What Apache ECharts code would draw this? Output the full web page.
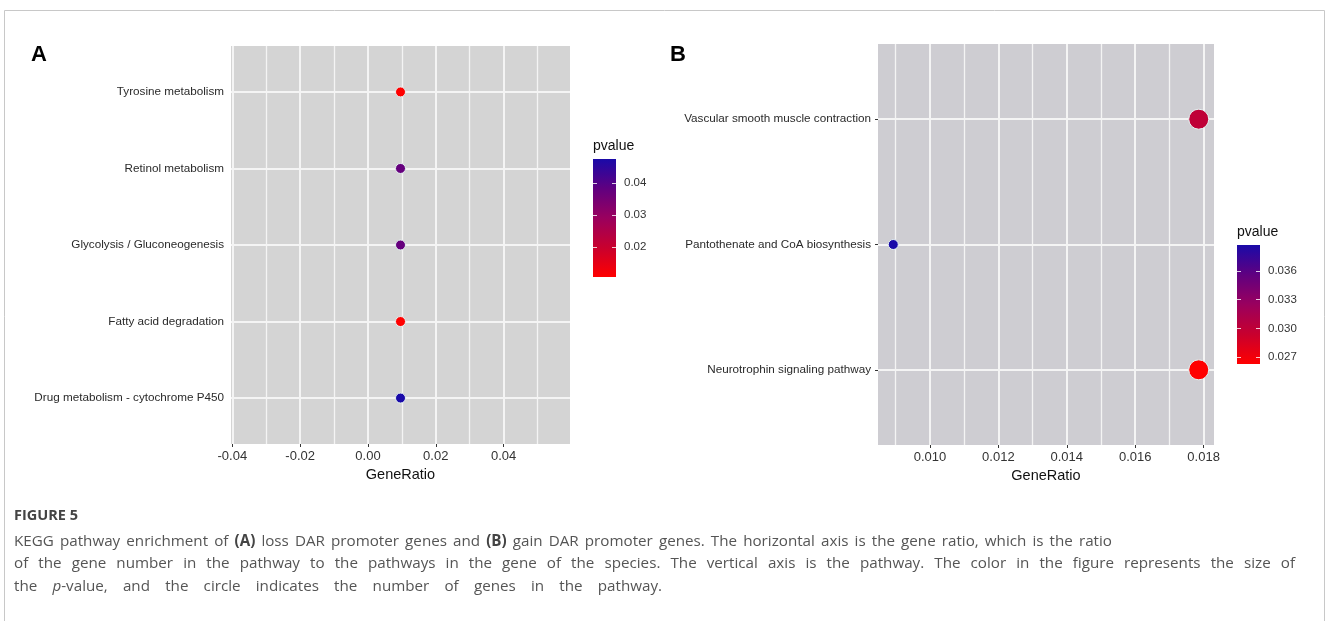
<!DOCTYPE html>
<html><head><meta charset="utf-8">
<script src="https://cdn.jsdelivr.net/npm/echarts@6/dist/echarts.min.js"></script>
<style>html,body{margin:0;padding:0;background:#fff}#c{width:1328px;height:621px}</style>
</head><body><div id="c"></div>
<script>
// ---------- Panel A data ----------
const pathwaysA = ['Tyrosine metabolism', 'Retinol metabolism', 'Glycolysis / Gluconeogenesis', 'Fatty acid degradation', 'Drug metabolism - cytochrome P450'];
const geneRatioA = [0.0096, 0.0096, 0.0096, 0.0096, 0.0096];
const pvalueA = [0.0107, 0.0375, 0.0375, 0.0107, 0.0476];
const countA = [1, 1, 1, 1, 1];
const xTicksA = [-0.04, -0.02, 0.00, 0.02, 0.04];
const xMinorA = [-0.03, -0.01, 0.01, 0.03, 0.05];
const pTicksA = [0.02, 0.03, 0.04];

// ---------- Panel B data ----------
const pathwaysB = ['Vascular smooth muscle contraction', 'Pantothenate and CoA biosynthesis', 'Neurotrophin signaling pathway'];
const geneRatioB = [0.017857, 0.008929, 0.017857];
const pvalueB = [0.0300, 0.0387, 0.0263];
const countB = [2, 1, 2];
const xTicksB = [0.010, 0.012, 0.014, 0.016, 0.018];
const xMinorB = [0.009, 0.011, 0.013, 0.015, 0.017];
const pTicksB = [0.027, 0.030, 0.033, 0.036];

// colour ramp, low p -> high p
const pColors = ['#ff0000', '#c8002e', '#9a005e', '#600080', '#1a0aa8'];

// ---------- caption ----------
const captionTitle = 'FIGURE 5';
const captionLines = [
  'KEGG pathway enrichment of {b|(A)} loss DAR promoter genes and {b|(B)} gain DAR promoter genes. The horizontal axis is the gene ratio, which is the ratio',
  'of the gene number in the pathway to the pathways in the gene of the species. The vertical axis is the pathway. The color in the figure represents the size of',
  'the {i|p}-value, and the circle indicates the number of genes in the pathway.'
];
const captionLineEnds = [1112, 1295, 662];

// ---------- helpers ----------
function ggRange(vals) {
  const lo = Math.min(...vals), hi = Math.max(...vals);
  if (hi - lo < 1e-12) return [lo - 0.05, hi + 0.05];
  const pad = (hi - lo) * 0.05;
  return [lo - pad, hi + pad];
}
const xRangeA = ggRange(geneRatioA);
const xRangeB = ggRange(geneRatioB);
const pRangeA = [Math.min(...pvalueA), Math.max(...pvalueA)];
const pRangeB = [Math.min(...pvalueB), Math.max(...pvalueB)];
const sizeForCount = c => 10 * c;

const AX = '"Liberation Sans", Arial, sans-serif';
const CAP = '"Open Sans", sans-serif';
const CAP_SIZE = 15.2;
const TXT = '#333';

function yIdx(names) { return names.map((_, i) => i + 1); }

function gridLines(xMajor, xMinor, nCat) {
  const ls = w => ({ color: '#f4f4f4', width: w, type: 'solid' });
  return [].concat(
    xMinor.map(v => ({ xAxis: v, lineStyle: ls(1.3) })),
    xMajor.map(v => ({ xAxis: v, lineStyle: ls(2) })),
    Array.from({ length: nCat }, (_, i) => ({ yAxis: i + 1, lineStyle: ls(2) }))
  );
}

function plotXAxis(grid, range, ticks, digits) {
  return {
    gridIndex: grid, type: 'value', min: range[0], max: range[1],
    name: 'GeneRatio', nameLocation: 'middle', nameGap: 21,
    nameTextStyle: { fontSize: 14.5, color: '#111', fontFamily: AX },
    axisLine: { show: false },
    axisTick: { show: true, customValues: ticks, length: 3, lineStyle: { color: TXT, width: 1 } },
    axisLabel: { show: true, customValues: ticks, formatter: v => v.toFixed(digits), margin: 6, fontSize: 13, color: TXT, fontFamily: AX },
    splitLine: { show: false }
  };
}
function plotYAxis(grid, names) {
  const n = names.length;
  return {
    gridIndex: grid, type: 'value', min: 0.4, max: n + 0.6,
    axisLine: { show: false },
    axisTick: { show: true, customValues: yIdx(names), length: 3, lineStyle: { color: TXT, width: 1 } },
    axisLabel: { show: true, customValues: yIdx(names), formatter: v => names[n - Math.round(v)], margin: 7, fontSize: 11.7, color: '#2a2a2a', fontFamily: AX },
    splitLine: { show: false }
  };
}
function barGradient() {
  return {
    type: 'linear', x: 0, y: 0, x2: 0, y2: 1,
    colorStops: pColors.slice().reverse().map((c, i, a) => ({ offset: i / (a.length - 1), color: c }))
  };
}
function legendYAxes(grid, range, ticks, digits) {
  const tick = { show: true, inside: true, length: 4, customValues: ticks, lineStyle: { color: '#ffffff', width: 1, opacity: 0.8 } };
  return [
    { gridIndex: grid, type: 'value', position: 'left', min: range[0], max: range[1],
      axisLine: { show: false }, axisTick: tick, axisLabel: { show: false }, splitLine: { show: false } },
    { gridIndex: grid, type: 'value', position: 'right', min: range[0], max: range[1],
      axisLine: { show: false }, axisTick: tick,
      axisLabel: { show: true, customValues: ticks, formatter: v => v.toFixed(digits), margin: 8, fontSize: 11.5, color: TXT, fontFamily: AX },
      splitLine: { show: false } }
  ];
}
function scatterData(names, gr, pv, cnt) {
  return names.map((nm, i) => [gr[i], names.length - i, pv[i], cnt[i], nm]);
}
const markBase = { silent: true, precision: 8, symbol: ['none', 'none'], label: { show: false }, animation: false, emphasis: { disabled: true } };

// caption line layout: spread words so each line ends where the reference line ends
const mctx = document.createElement('canvas').getContext('2d');
const capFonts = {
  n: `${CAP_SIZE}px ${CAP}`,
  b: `bold ${CAP_SIZE}px ${CAP}`,
  i: `italic ${CAP_SIZE}px ${CAP}`
};
function wordWidth(w) {
  let total = 0, last = 0;
  const re = /\{(\w)\|([^}]*)\}/g;
  let m;
  while ((m = re.exec(w))) {
    if (m.index > last) { mctx.font = capFonts.n; total += mctx.measureText(w.slice(last, m.index)).width; }
    mctx.font = capFonts[m[1]]; total += mctx.measureText(m[2]).width;
    last = re.lastIndex;
  }
  if (last < w.length) { mctx.font = capFonts.n; total += mctx.measureText(w.slice(last)).width; }
  return total;
}
const capX = 14;
function captionElement(line, endX, y) {
  const words = line.split(' ');
  const sum = words.reduce((s, w) => s + wordWidth(w), 0);
  const gap = Math.max(2.5, (endX - capX - sum) / (words.length - 1));
  return {
    type: 'text', x: capX, y: y, silent: true,
    style: {
      text: words.join('{s| }'),
      fontFamily: CAP, fontSize: CAP_SIZE, fill: '#555', verticalAlign: 'middle',
      rich: {
        s: { width: gap, fontFamily: CAP, fontSize: CAP_SIZE },
        b: { fontFamily: CAP, fontSize: CAP_SIZE, fontWeight: 'bold', fill: '#444' },
        i: { fontFamily: CAP, fontSize: CAP_SIZE, fontStyle: 'italic', fill: '#555' }
      }
    }
  };
}

const option = {
  animation: false,
  backgroundColor: '#ffffff',
  grid: [
    { left: 231, top: 46, width: 339, height: 398, show: true, backgroundColor: '#d4d4d4', borderWidth: 0 },
    { left: 878, top: 44, width: 336, height: 401, show: true, backgroundColor: '#cecdd2', borderWidth: 0 },
    { left: 593, top: 159, width: 23, height: 118, show: true, backgroundColor: barGradient(), borderWidth: 0 },
    { left: 1237, top: 245, width: 23, height: 119, show: true, backgroundColor: barGradient(), borderWidth: 0 }
  ],
  xAxis: [
    plotXAxis(0, xRangeA, xTicksA, 2),
    plotXAxis(1, xRangeB, xTicksB, 3),
    { gridIndex: 2, type: 'value', show: false, min: 0, max: 1 },
    { gridIndex: 3, type: 'value', show: false, min: 0, max: 1 }
  ],
  yAxis: [
    plotYAxis(0, pathwaysA),
    plotYAxis(1, pathwaysB)
  ].concat(legendYAxes(2, pRangeA, pTicksA, 2), legendYAxes(3, pRangeB, pTicksB, 3)),
  visualMap: [
    { type: 'continuous', show: false, seriesIndex: 1, dimension: 2, min: pRangeA[0], max: pRangeA[1], inRange: { color: pColors } },
    { type: 'continuous', show: false, seriesIndex: 3, dimension: 2, min: pRangeB[0], max: pRangeB[1], inRange: { color: pColors } }
  ],
  series: [
    { type: 'line', xAxisIndex: 0, yAxisIndex: 0, data: [], z: 1, silent: true,
      markLine: Object.assign({ data: gridLines(xTicksA, xMinorA, pathwaysA.length) }, markBase) },
    { type: 'scatter', xAxisIndex: 0, yAxisIndex: 0, z: 5,
      data: scatterData(pathwaysA, geneRatioA, pvalueA, countA),
      symbolSize: v => sizeForCount(v[3]),
      itemStyle: { opacity: 1, borderColor: '#e6f2f2', borderWidth: 1 } },
    { type: 'line', xAxisIndex: 1, yAxisIndex: 1, data: [], z: 1, silent: true,
      markLine: Object.assign({ data: gridLines(xTicksB, xMinorB, pathwaysB.length) }, markBase) },
    { type: 'scatter', xAxisIndex: 1, yAxisIndex: 1, z: 5,
      data: scatterData(pathwaysB, geneRatioB, pvalueB, countB),
      symbolSize: v => sizeForCount(v[3]),
      itemStyle: { opacity: 1, borderColor: '#e6f2f2', borderWidth: 1 } }
  ],
  graphic: [
    { type: 'rect', silent: true, z: -10, shape: { x: 4.5, y: 10.5, width: 1320, height: 700 },
      style: { fill: 'none', stroke: '#c8c8c8', lineWidth: 1 } },
    { type: 'text', x: 31, y: 55, style: { text: 'A', fontFamily: AX, fontWeight: 'bold', fontSize: 22, fill: '#000', verticalAlign: 'middle' } },
    { type: 'text', x: 670, y: 55, style: { text: 'B', fontFamily: AX, fontWeight: 'bold', fontSize: 22, fill: '#000', verticalAlign: 'middle' } },
    { type: 'text', x: 593, y: 146, style: { text: 'pvalue', fontFamily: AX, fontSize: 14, fill: '#111', verticalAlign: 'middle' } },
    { type: 'text', x: 1237, y: 232, style: { text: 'pvalue', fontFamily: AX, fontSize: 14, fill: '#111', verticalAlign: 'middle' } },
    { type: 'text', x: capX, y: 516, style: { text: captionTitle, fontFamily: CAP, fontSize: 14.5, fontWeight: 'bold', fill: '#444', verticalAlign: 'middle' } },
    captionElement(captionLines[0], captionLineEnds[0], 542),
    captionElement(captionLines[1], captionLineEnds[1], 564),
    captionElement(captionLines[2], captionLineEnds[2], 587)
  ]
};
const chart = echarts.init(document.getElementById('c'), null, { renderer: 'canvas' });
chart.setOption(option);
</script></body></html>
